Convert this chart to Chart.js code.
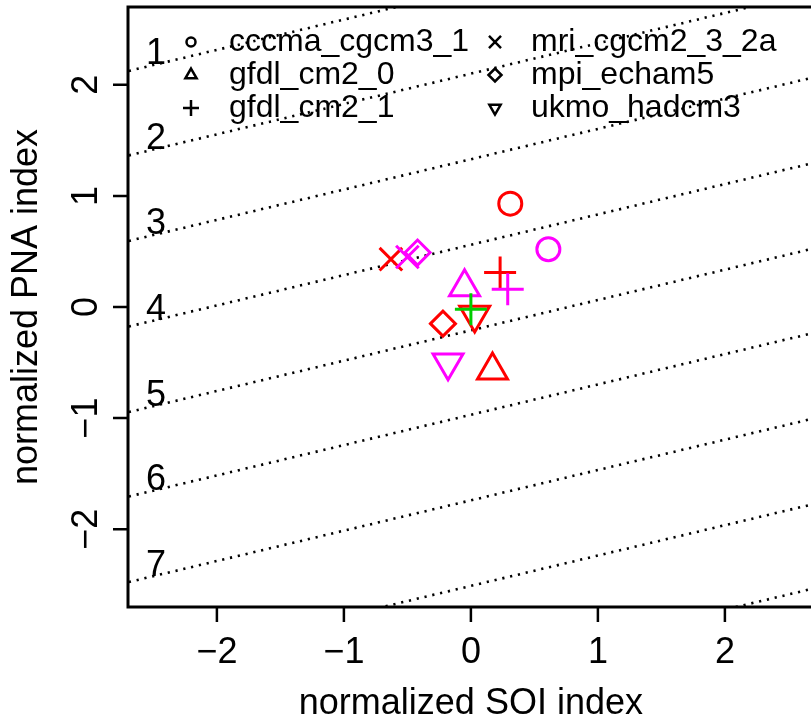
<!DOCTYPE html>
<html>
<head>
<meta charset="utf-8">
<script src="https://cdn.jsdelivr.net/npm/chart.js@4.4.0/dist/chart.umd.min.js"></script>
<style>
  body { margin: 0; background: #fff; }
</style>
</head>
<body>
<canvas id="chart" width="811" height="724"></canvas>
<script>
// models, one marker each (R pch 1,2,3,4,5,6)
const models = ["cccma_cgcm3_1", "gfdl_cm2_0", "gfdl_cm2_1", "mri_cgcm2_3_2a", "mpi_echam5", "ukmo_hadcm3"];

// red points (SOI, PNA) per model
const soiRed = [0.31, 0.17, 0.23, -0.63, -0.22, 0.03];
const pnaRed = [0.93, -0.57, 0.31, 0.43, -0.15, -0.07];
// magenta points
const soiMag = [0.61, -0.05, 0.29, -0.50, -0.42, -0.18];
const pnaMag = [0.52, 0.18, 0.16, 0.45, 0.49, -0.50];
// green point (gfdl_cm2_1 only)
const soiGreen = [0.00];
const pnaGreen = [-0.02];

// dotted iso lines: y = slope * x + intercept
const isoSlope = 0.273;
const isoIntercepts = [2.86, 2.10, 1.33, 0.56, -0.21, -0.97, -1.74, -2.51, -3.27];
const isoLabels = ["1", "2", "3", "4", "5", "6", "7", "", ""];

const xTicks = [-2, -1, 0, 1, 2];
const yTicks = [-2, -1, 0, 1, 2];

const FONT = "'Liberation Sans', Arial, sans-serif";
const fmt = v => (v < 0 ? "\u2212" + Math.abs(v) : "" + v);

// marker look per model
const markStyle = [
  { style: "circle",   rot: 0,   r: 11.5, lr: 4.5 },
  { style: "triangle", rot: 0,   r: 17.3, lr: 6.5 },
  { style: "cross",    rot: 0,   r: 16,   lr: 8 },
  { style: "crossRot", rot: 0,   r: 16,   lr: 8.5 },
  { style: "rectRot",  rot: 0,   r: 12.5, lr: 6.5 },
  { style: "triangle", rot: 180, r: 17.3, lr: 6.5 }
];

function pts(xs, ys) {
  return xs.map((x, i) => ({ x: x, y: ys[i] }));
}

function markerSet(label, xs, ys, color, idx, order) {
  return {
    label: label,
    data: pts(xs, ys),
    order: order,
    showLine: false,
    pointStyle: idx.map(i => markStyle[i].style),
    pointRotation: idx.map(i => markStyle[i].rot),
    pointRadius: idx.map(i => markStyle[i].r),
    pointHoverRadius: idx.map(i => markStyle[i].r),
    pointBorderWidth: 3,
    pointBorderColor: color,
    pointBackgroundColor: "rgba(0,0,0,0)"
  };
}

const xMin = -2.7, xMax = 2.678;

const isoSets = isoIntercepts.map((c, k) => ({
  label: "iso " + (k + 1),
  data: [{ x: -3, y: isoSlope * -3 + c }, { x: 3, y: isoSlope * 3 + c }],
  showLine: true,
  order: 10,
  borderColor: "#000",
  borderWidth: 2.6,
  borderDash: [2.2, 5.8],
  pointRadius: 0,
  fill: false
}));

const allIdx = models.map((m, i) => i);

const decor = {
  id: "decor",
  afterDraw(chart) {
    const ctx = chart.ctx;
    const a = chart.chartArea;
    const xs = chart.scales.x, ys = chart.scales.y;
    ctx.save();

    // iso line labels
    ctx.fillStyle = "#000";
    ctx.font = "36px " + FONT;
    ctx.textAlign = "center";
    ctx.textBaseline = "alphabetic";
    const lx = -2.48;
    isoIntercepts.forEach((c, k) => {
      if (!isoLabels[k]) return;
      const py = ys.getPixelForValue(isoSlope * lx + c);
      ctx.fillText(isoLabels[k], xs.getPixelForValue(lx), py);
    });

    // box (right side is outside the picture)
    ctx.strokeStyle = "#000";
    ctx.lineWidth = 3;
    ctx.beginPath();
    ctx.moveTo(a.right + 10, a.top);
    ctx.lineTo(a.left, a.top);
    ctx.lineTo(a.left, a.bottom);
    ctx.lineTo(a.right + 10, a.bottom);
    ctx.stroke();

    // ticks
    ctx.lineWidth = 2.5;
    ctx.beginPath();
    xTicks.forEach(v => {
      const px = xs.getPixelForValue(v);
      ctx.moveTo(px, a.bottom);
      ctx.lineTo(px, a.bottom + 15);
    });
    yTicks.forEach(v => {
      const py = ys.getPixelForValue(v);
      ctx.moveTo(a.left, py);
      ctx.lineTo(a.left - 15, py);
    });
    ctx.stroke();

    // tick labels
    ctx.font = "36px " + FONT;
    ctx.textAlign = "center";
    ctx.textBaseline = "alphabetic";
    xTicks.forEach(v => {
      ctx.fillText(fmt(v), xs.getPixelForValue(v), a.bottom + 56);
    });
    yTicks.forEach(v => {
      ctx.save();
      ctx.translate(a.left - 31, ys.getPixelForValue(v));
      ctx.rotate(-Math.PI / 2);
      ctx.fillText(fmt(v), 0, 0);
      ctx.restore();
    });

    // axis titles
    ctx.fillText("normalized SOI index", (a.left + xs.getPixelForValue(2.7)) / 2, a.bottom + 107);
    ctx.save();
    ctx.translate(37, (a.top + a.bottom) / 2);
    ctx.rotate(-Math.PI / 2);
    ctx.fillText("normalized PNA index", 0, 0);
    ctx.restore();

    // legend, filled by column
    const colX = [191, 495];
    const txtX = [229, 531];
    const rowY = [42, 75, 108];
    ctx.font = "32px " + FONT;
    ctx.textAlign = "left";
    ctx.textBaseline = "alphabetic";
    models.forEach((m, i) => {
      const col = Math.floor(i / 3), row = i % 3;
      const s = markStyle[i];
      ctx.strokeStyle = "#000";
      ctx.fillStyle = "rgba(0,0,0,0)";
      Chart.helpers.drawPoint(ctx, {
        pointStyle: s.style, rotation: s.rot, radius: s.lr, borderWidth: 2
      }, colX[col], rowY[row]);
      ctx.fillStyle = "#000";
      ctx.fillText(m, txtX[col], rowY[row] + 9);
    });

    ctx.restore();
  }
};

const chart = new Chart(document.getElementById("chart"), {
  type: "scatter",
  data: {
    datasets: [
      ...isoSets,
      markerSet("red", soiRed, pnaRed, "#FF0000", allIdx, 3),
      markerSet("magenta", soiMag, pnaMag, "#FF00FF", allIdx, 2),
      markerSet("green", soiGreen, pnaGreen, "#00CD00", [2], 1)
    ]
  },
  options: {
    responsive: false,
    animation: false,
    layout: { autoPadding: false, padding: { left: 128, top: 7, right: 0, bottom: 117 } },
    plugins: { legend: { display: false }, tooltip: { enabled: false } },
    scales: {
      x: { type: "linear", display: false, min: xMin, max: xMax },
      y: { type: "linear", display: false, min: -2.7, max: 2.7 }
    }
  },
  plugins: [decor]
});
</script>
</body>
</html>
